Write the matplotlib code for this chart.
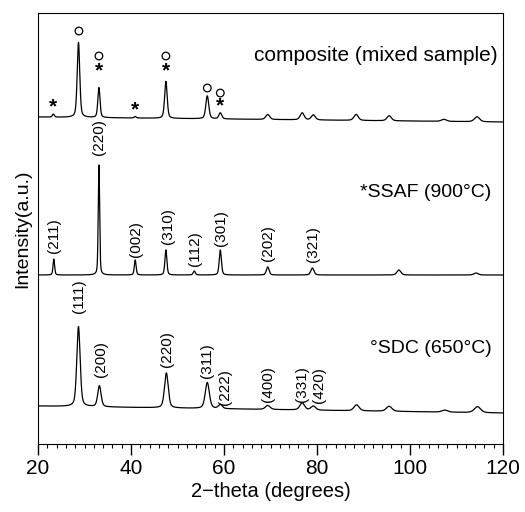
import numpy as np
from matplotlib import pyplot as plt

plt.rcParams['font.family'] = ['Liberation Sans', 'DejaVu Sans']

# peak lists: 2-theta position, height above baseline, width (FWHM, degrees)
comp_pos = [23.3, 28.7, 33.1, 40.9, 47.5, 56.4, 59.2, 69.4, 76.8, 79.2, 88.4, 95.5, 107.3, 114.4]
comp_hgt = [3, 75, 30, 1.5, 37, 23, 6, 5, 7, 5, 6, 5, 2, 5]
comp_wid = [0.5, 0.65, 0.55, 0.5, 0.65, 0.75, 0.75, 1.0, 1.0, 1.0, 1.1, 1.1, 1.3, 1.3]
comp_base = [327, 322]

ssaf_pos = [23.4, 33.1, 40.9, 47.5, 53.6, 59.2, 69.4, 79.0, 97.6, 114.2]
ssaf_hgt = [16, 110, 15, 25, 4, 25, 8, 7, 5, 2]
ssaf_wid = [0.4, 0.35, 0.45, 0.5, 0.55, 0.55, 0.7, 0.8, 1.0, 1.1]
ssaf_base = [169, 169]

sdc_pos = [28.7, 33.2, 47.6, 56.4, 59.2, 69.4, 76.8, 79.2, 88.5, 95.5, 107.5, 114.5]
sdc_hgt = [80, 21, 35, 26, 4, 4, 7, 4, 6, 5, 2, 6]
sdc_wid = [0.85, 0.85, 0.95, 1.05, 1.0, 1.2, 1.2, 1.2, 1.3, 1.4, 1.5, 1.6]
sdc_base = [38, 31]

# Miller indices: label, x position, bottom of text
ssaf_hkl = ["(211)", "(220)", "(002)", "(310)", "(112)", "(301)", "(202)", "(321)"]
ssaf_hkl_x = [23.5, 33.2, 41.1, 47.9, 53.8, 59.4, 69.5, 79.1]
ssaf_hkl_y = [191, 289, 187, 200, 178, 198, 183, 182]

sdc_hkl = ["(111)", "(200)", "(220)", "(311)", "(222)", "(400)", "(331)", "(420)"]
sdc_hkl_x = [28.8, 33.6, 47.8, 56.4, 60.2, 69.5, 76.8, 80.5]
sdc_hkl_y = [131, 67, 77, 66, 39, 42, 42, 41]

# phase markers on composite pattern
circ_x = [28.8, 33.1, 47.5, 56.4, 59.2]
circ_y = [413, 388, 388, 356, 351]
star_x = [23.3, 33.1, 40.9, 47.5, 59.2]
star_y = [337, 373, 334, 373, 338]

x = np.linspace(20, 120, 5001)


def pattern(pos, hgt, wid, base):
    y = np.linspace(base[0], base[1], len(x))
    for p, h, w in zip(pos, hgt, wid):
        g = np.exp(-4 * np.log(2) * ((x - p) / w) ** 2)
        lo = 1 / (1 + 4 * ((x - p) / w) ** 2)
        y += h * (0.6 * g + 0.4 * lo)
    return y


fig = plt.figure(figsize=(5.25, 5.12), dpi=100)
ax = fig.add_axes([0.0724, 0.1328, 0.8858, 0.8418])

for pos, hgt, wid, base in [(comp_pos, comp_hgt, comp_wid, comp_base),
                            (ssaf_pos, ssaf_hgt, ssaf_wid, ssaf_base),
                            (sdc_pos, sdc_hgt, sdc_wid, sdc_base)]:
    ax.plot(x, pattern(pos, hgt, wid, base), color="black", lw=0.9)

for lab, lx, ly in zip(ssaf_hkl + sdc_hkl, ssaf_hkl_x + sdc_hkl_x, ssaf_hkl_y + sdc_hkl_y):
    ax.text(lx, ly, lab, rotation=90, ha="center", va="bottom", fontsize=11)

ax.scatter(circ_x, circ_y, s=30, facecolors="none", edgecolors="black", linewidths=0.9)
for sx, sy in zip(star_x, star_y):
    ax.text(sx, sy, "*", ha="center", va="center", fontsize=15, fontweight="bold")

ax.text(118.8, 389, "composite (mixed sample)", ha="right", va="center", fontsize=15)
ax.text(117.5, 252, "*SSAF (900°C)", ha="right", va="center", fontsize=14)
ax.text(117.5, 96, "°SDC (650°C)", ha="right", va="center", fontsize=14)

ax.set_xlim(20, 120)
ax.set_ylim(0, 431)
ax.set_xticks(np.arange(20, 121, 20))
ax.set_xticks(np.arange(20, 121, 2), minor=True)
ax.set_yticks([])
ax.tick_params(axis="x", which="major", direction="out", length=8, width=1, labelsize=15, pad=3)
ax.tick_params(axis="x", which="minor", direction="out", length=3, width=0.8)
ax.set_xlabel("2\u2212theta (degrees)", fontsize=14.5, labelpad=3)
ax.set_ylabel("Intensity(a.u.)", fontsize=14, labelpad=5)

plt.savefig("out.png", dpi=100)
